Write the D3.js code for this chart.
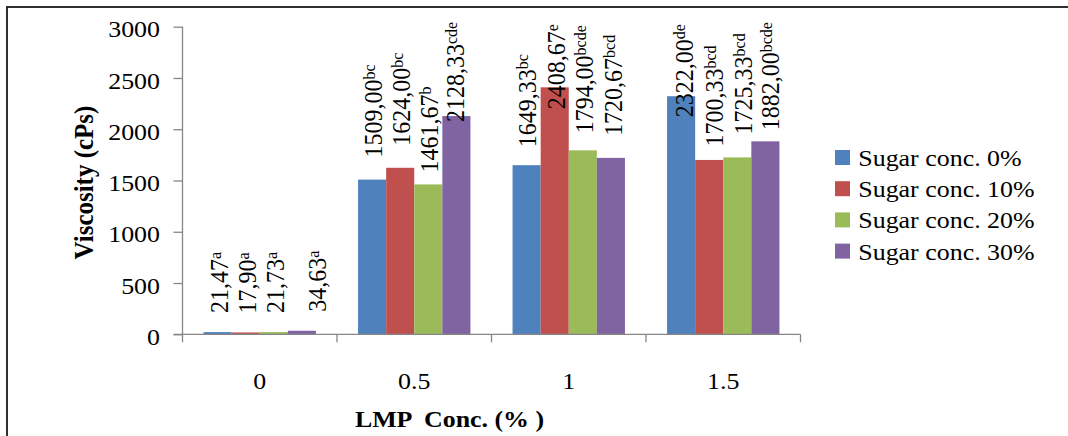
<!DOCTYPE html>
<html>
<head>
<meta charset="utf-8">
<script src="https://cdn.jsdelivr.net/npm/d3@7"></script>
<style>
  html, body { margin: 0; padding: 0; background: #fff; }
  svg { display: block; }
</style>
</head>
<body>
<svg id="chart" width="1068" height="436" font-family="Liberation Serif, DejaVu Serif, serif"></svg>
<script>
// ---- data ----
const categories = ["0", "0.5", "1", "1.5"];
const seriesNames = ["Sugar conc. 0%", "Sugar conc. 10%", "Sugar conc. 20%", "Sugar conc. 30%"];
const sugar0  = [21.47, 1509.00, 1649.33, 2322.00];
const sugar10 = [17.90, 1624.00, 2408.67, 1700.33];
const sugar20 = [21.73, 1461.67, 1794.00, 1725.33];
const sugar30 = [34.63, 2128.33, 1720.67, 1882.00];
const letters0  = ["a", "bc", "bc", "de"];
const letters10 = ["a", "bc", "e", "bcd"];
const letters20 = ["a", "b", "bcde", "bcd"];
const letters30 = ["a", "cde", "bcd", "bcde"];
const yTicks = [0, 500, 1000, 1500, 2000, 2500, 3000];
const colors = ["#4F81BD", "#C0504D", "#9BBB59", "#8064A2"];

// ---- label placement (gap above bar top, sideways nudge), per series x category ----
const labelGap = [
  [19, 22, 18, -21],
  [19, 22, -22, 13.5],
  [19, 12, 17, 23],
  [19, -6, 22, 11]
];
const labelNudge = [
  [1.5, 1, 0, 2.5],
  [1.5, 1, 1, 5],
  [1.5, 1, 1.4, 5.5],
  [15, -1.7, 2, 5]
];

const values = [sugar0, sugar10, sugar20, sugar30];
const letters = [letters0, letters10, letters20, letters30];

const FONT = "'Liberation Serif', 'DejaVu Serif', serif";
const SX = 1.08; // horizontal glyph stretch
const svg = d3.select("#chart");

// chart frame
svg.append("rect")
  .attr("x", 7).attr("y", 7).attr("width", 1080).attr("height", 450)
  .attr("fill", "none").attr("stroke", "#1a1a1a").attr("stroke-width", 1.8);

const plot = { left: 182.5, right: 800.5, top: 26.7, bottom: 334.3 };

const x = d3.scaleBand().domain(categories).range([plot.left, plot.right]).padding(0);
const xs = d3.scaleBand().domain(d3.range(4)).range([0, x.bandwidth()])
  .paddingInner(0).paddingOuter(0.75);
const y = d3.scaleLinear().domain([0, 3000]).range([plot.bottom, plot.top]);

// bars
const rows = [];
values.forEach((arr, s) => arr.forEach((v, c) => rows.push({ s, c, v, l: letters[s][c] })));

svg.append("g").selectAll("rect").data(rows).join("rect")
  .attr("x", d => x(categories[d.c]) + xs(d.s))
  .attr("y", d => y(d.v))
  .attr("width", xs.bandwidth())
  .attr("height", d => y(0) - y(d.v))
  .attr("fill", d => colors[d.s]);

// axes
const axisColor = "#868686";
const yAxis = svg.append("g").attr("transform", `translate(${plot.left},0)`)
  .call(d3.axisLeft(y).tickValues(yTicks).tickSize(9).tickFormat(""));
yAxis.select(".domain").attr("stroke", axisColor).attr("stroke-width", 1.3)
  .attr("d", `M0,${plot.top}V${plot.bottom}`);
yAxis.selectAll(".tick line").attr("stroke", axisColor).attr("stroke-width", 1.3);

const boundaries = categories.map(c => x(c)).concat([plot.right]);
const xAxisG = svg.append("g");
xAxisG.append("line")
  .attr("x1", plot.left - 9).attr("x2", plot.right)
  .attr("y1", plot.bottom).attr("y2", plot.bottom)
  .attr("stroke", axisColor).attr("stroke-width", 1.3);
xAxisG.selectAll("line.tk").data(boundaries).join("line").attr("class", "tk")
  .attr("x1", d => d).attr("x2", d => d)
  .attr("y1", plot.bottom).attr("y2", plot.bottom + 8)
  .attr("stroke", axisColor).attr("stroke-width", 1.3);

// y tick labels
svg.append("g").selectAll("text").data(yTicks).join("text")
  .attr("transform", d => `translate(160,${y(d)}) scale(${SX},1)`)
  .attr("dy", "0.44em")
  .attr("text-anchor", "end")
  .style("font-family", FONT).style("font-size", "24px")
  .text(d => d);

// x tick labels
svg.append("g").selectAll("text").data(categories).join("text")
  .attr("transform", d => `translate(${x(d) + x.bandwidth() / 2},389) scale(${SX},1)`)
  .attr("text-anchor", "middle")
  .style("font-family", FONT).style("font-size", "24px")
  .text(d => d);

// axis titles
svg.append("text")
  .attr("transform", `translate(449.5,427.4) scale(${SX},1)`)
  .attr("text-anchor", "middle")
  .style("font-family", FONT).style("font-size", "24px").style("font-weight", "bold")
  .style("white-space", "pre")
  .text("LMP  Conc. (% )");

svg.append("text")
  .attr("transform", `translate(93,182.5) scale(${SX},1) rotate(-90)`)
  .attr("text-anchor", "middle")
  .style("font-family", FONT).style("font-size", "25px").style("font-weight", "bold")
  .text("Viscosity (cPs)");

// value labels with significance letters
const fmt = v => d3.format(".2f")(v).replace(".", ",");
const lbl = svg.append("g").selectAll("text").data(rows).join("text")
  .attr("transform", d => {
    const cx = x(categories[d.c]) + xs(d.s) + xs.bandwidth() / 2 + labelNudge[d.s][d.c];
    const cy = y(d.v) - labelGap[d.s][d.c];
    return `translate(${cx},${cy}) scale(${SX},1) rotate(-90)`;
  })
  .style("font-family", FONT).style("font-size", "24px");
lbl.append("tspan").attr("dy", "0.35em").text(d => fmt(d.v));
lbl.append("tspan").attr("dy", "-0.42em").style("font-size", "16px").text(d => d.l);

// legend
const legend = svg.append("g").selectAll("g").data(seriesNames).join("g")
  .attr("transform", (d, i) => `translate(835,${157.5 + i * 31.2})`);
legend.append("rect")
  .attr("x", 0).attr("y", -7.5).attr("width", 15).attr("height", 15)
  .attr("fill", (d, i) => colors[i]);
legend.append("text")
  .attr("transform", `translate(23.3,0) scale(${SX},1)`)
  .attr("dy", "0.35em")
  .style("font-family", FONT).style("font-size", "24px")
  .text(d => d);
</script>
</body>
</html>
